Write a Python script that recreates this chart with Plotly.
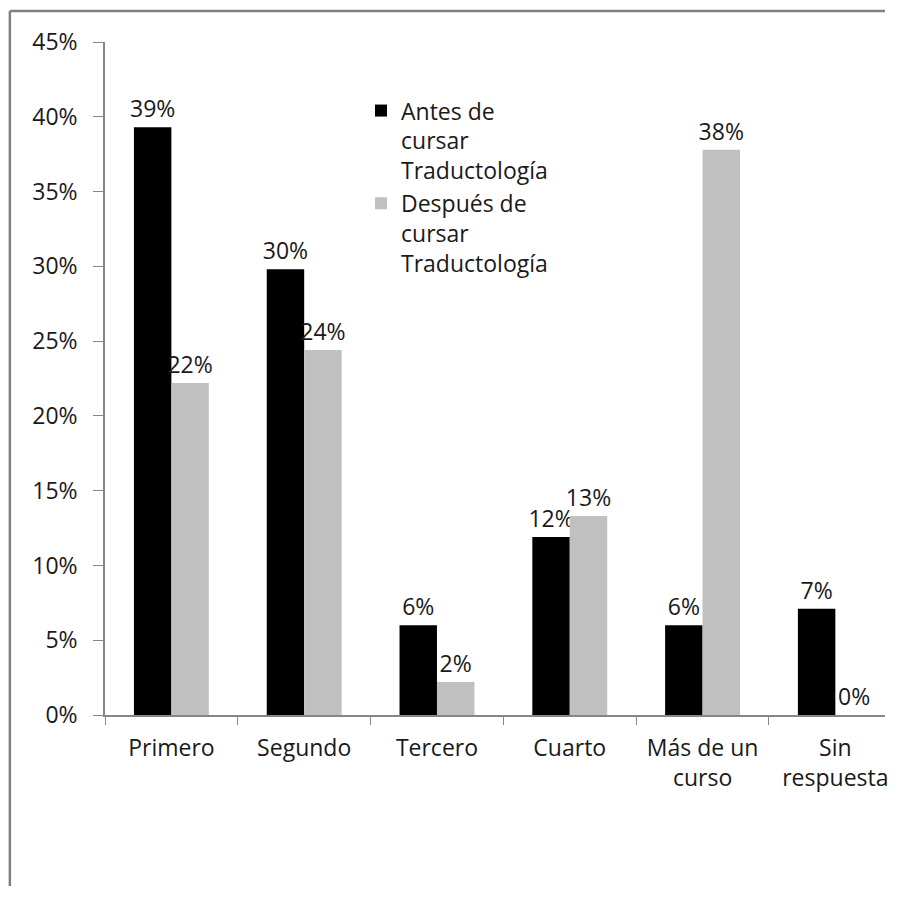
import plotly.graph_objects as go

categories = ["Primero", "Segundo", "Tercero", "Cuarto", "Más de un curso", "Sin respuesta"]
tick_labels = ["Primero", "Segundo", "Tercero", "Cuarto", "Más de un<br>curso", "Sin<br>respuesta"]
antes = [0.393, 0.298, 0.060, 0.119, 0.060, 0.071]
despues = [0.222, 0.244, 0.022, 0.133, 0.378, 0.0]
series_names = ["Antes de<br>cursar<br>Traductología", "Después de<br>cursar<br>Traductología"]

FONT = "Open Sans"
TXT = "#1a1a1a"
AX = "#868686"

# The page body adds an 8px margin on every side; keep the figure inside the
# window so no scrollbars appear.
W, H = 880, 878
L, T, R, B = 97, 34, 0, 171
PW, PH = W - L - R, H - T - B
CAT_PX = 133.3  # pixel width of one category in the reference

fig = go.Figure()
fig.add_trace(go.Bar(
    x=tick_labels, y=antes, name=series_names[0],
    marker=dict(color="#000000", line=dict(width=0)),
    text=[f"{v:.0%}" for v in antes], textposition="outside",
    textfont=dict(family=FONT, size=23, color=TXT), cliponaxis=False,
))
fig.add_trace(go.Bar(
    x=tick_labels, y=despues, name=series_names[1],
    marker=dict(color="#C0C0C0", line=dict(width=0)),
    text=[f"{v:.0%}" for v in despues], textposition="outside",
    textfont=dict(family=FONT, size=23, color=TXT), cliponaxis=False,
))

x_left = (1.5 - L) / PW
y_top = 1 + (T - 3) / PH
fig.update_layout(
    width=W, height=H,
    margin=dict(l=L, r=R, t=T, b=B),
    paper_bgcolor="white", plot_bgcolor="white",
    barmode="group", bargap=0.436, bargroupgap=0,
    font=dict(family=FONT, size=23, color=TXT),
    legend=dict(
        x=(362 - 8 - L) / PW, y=0.93, xanchor="left", yanchor="top",
        font=dict(family=FONT, size=23, color=TXT),
        bgcolor="rgba(0,0,0,0)", itemwidth=30, traceorder="normal",
        valign="top",
    ),
    xaxis=dict(
        type="category", range=[-0.5, -0.5 + PW / CAT_PX], tickson="boundaries",
        ticks="outside", ticklen=8, tickcolor=AX, tickwidth=1,
        showline=True, linecolor=AX, linewidth=1.5,
        showgrid=False, zeroline=False, ticklabelstandoff=12,
        tickfont=dict(family=FONT, size=23, color=TXT),
    ),
    yaxis=dict(
        range=[0, 0.45], dtick=0.05, tickformat=".0%",
        ticks="outside", ticklen=10, tickcolor=AX, tickwidth=1,
        showline=True, linecolor=AX, linewidth=1.5,
        showgrid=False, zeroline=False, ticklabelstandoff=11,
        tickfont=dict(family=FONT, size=23, color=TXT),
    ),
    shapes=[
        dict(type="line", xref="paper", yref="paper",
             x0=x_left, x1=1.0, y0=y_top, y1=y_top,
             line=dict(color="#808080", width=2.5), layer="below"),
        dict(type="line", xref="paper", yref="paper",
             x0=x_left, x1=x_left, y0=-B / PH, y1=y_top,
             line=dict(color="#808080", width=2.5), layer="below"),
    ],
)
fig.update_traces(constraintext="none")

fig.write_html("out.html")
